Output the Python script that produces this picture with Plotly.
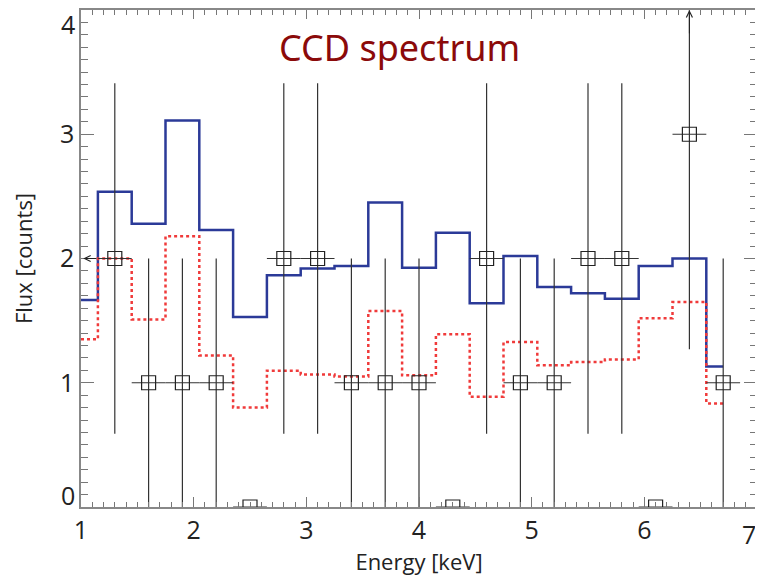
import plotly.graph_objects as go

# model histogram bin edges (keV) and values
edges = [1.0, 1.15, 1.45, 1.75, 2.05, 2.35, 2.65, 2.95, 3.25, 3.55, 3.85,
         4.15, 4.45, 4.75, 5.05, 5.35, 5.65, 5.95, 6.25, 6.55, 6.7]
model_blue = [1.665, 2.537, 2.28, 3.11, 2.23, 1.53, 1.866, 1.92, 1.94, 2.45,
              1.925, 2.207, 1.64, 2.02, 1.77, 1.72, 1.676, 1.94, 2.0, 1.13]
model_red = [1.35, 2.0, 1.51, 2.18, 1.22, 0.80, 1.097, 1.067, 1.05, 1.577,
             1.06, 1.39, 0.887, 1.327, 1.14, 1.166, 1.188, 1.52, 1.65, 0.834]

# observed counts
energy = [1.3, 1.6, 1.9, 2.2, 2.5, 2.8, 3.1, 3.4, 3.7, 4.0,
          4.3, 4.6, 4.9, 5.2, 5.5, 5.8, 6.1, 6.4, 6.7]
counts = [2, 1, 1, 1, 0, 2, 2, 1, 1, 1, 0, 2, 1, 1, 2, 2, 0, 3, 1]
count_err = [1.41, 1, 1, 1, 0, 1.41, 1.41, 1, 1, 1, 0, 1.41, 1, 1, 1.41, 1.41, 0, 1.73, 1]
energy_err = [0.15] * len(energy)

x_range = [1, 7]
y_range = [0, 4]
x_ticks = [1, 2, 3, 4, 5, 6, 7]

axis_font = dict(family="Open Sans, Noto Sans, sans-serif", size=25, color="#222222")
title_font = dict(family="Open Sans, Noto Sans, sans-serif", size=22, color="#222222")
tick_grey = "#777777"

fig = go.Figure()

fig.add_trace(go.Scatter(x=edges, y=model_blue + [model_blue[-1]], mode="lines",
                         line=dict(color="#2b3a98", width=2.5, shape="hv"),
                         showlegend=False))
fig.add_trace(go.Scatter(x=edges, y=model_red + [model_red[-1]], mode="lines",
                         line=dict(color="#f03a3a", width=2.5, shape="hv", dash="dot"),
                         showlegend=False))
fig.add_trace(go.Scatter(x=energy, y=counts, mode="markers",
                         marker=dict(symbol="square-open", size=14, color="#222222",
                                     line=dict(width=1.2)),
                         error_y=dict(type="data", array=count_err, color="#333333",
                                      thickness=1.2, width=0),
                         error_x=dict(type="data", array=energy_err, color="#333333",
                                      thickness=1.2, width=0),
                         showlegend=False))
# empty trace so the top/right tick axes get drawn
fig.add_trace(go.Scatter(x=x_range, y=y_range, xaxis="x2", yaxis="y2", mode="markers",
                         marker=dict(opacity=0), hoverinfo="skip", showlegend=False))

# arrows for limits running off the plot
fig.add_annotation(x=1.02, y=2, ax=1.15, ay=2, xref="x", yref="y", axref="x", ayref="y",
                   text="", showarrow=True, arrowhead=5, arrowsize=1.2, arrowwidth=1,
                   arrowcolor="#222222")
fig.add_annotation(x=6.4, y=4.0, ax=6.4, ay=3.8, xref="x", yref="y", axref="x", ayref="y",
                   text="", showarrow=True, arrowhead=5, arrowsize=1.2, arrowwidth=1,
                   arrowcolor="#222222")

fig.add_annotation(x=3.83, y=3.7, xref="x", yref="y", text="CCD spectrum", showarrow=False,
                   font=dict(family="Comic Sans MS, Noto Sans, sans-serif", size=36,
                             color="#8b0a0a"))

# end labels of the y axis sit a little inside the frame
for val, txt in [(0.1, "0"), (3.89, "4")]:
    fig.add_annotation(x=0, y=val, xref="paper", yref="y", text=txt, showarrow=False,
                       xanchor="right", xshift=-4, font=axis_font)

# last x label would be clipped at the window edge, so it is right-aligned to the frame
fig.add_annotation(x=x_ticks[-1], y=0, xref="x", yref="paper", text=str(x_ticks[-1]),
                   showarrow=False, xanchor="right", yanchor="top", xshift=1, yshift=-8,
                   font=axis_font)

common = dict(ticks="inside", tickwidth=1.2, tickcolor=tick_grey, showline=True,
              linecolor="#888888", linewidth=1.5, showgrid=False, zeroline=False,
              automargin=False)

# the page body adds an 8px offset, so the figure is 8px smaller on top/left
fig.update_layout(
    xaxis=dict(range=x_range, tickvals=x_ticks,
               ticktext=[str(t) for t in x_ticks[:-1]] + [""], ticklen=10,
               minor=dict(dtick=0.1, ticks="inside", ticklen=5, tickcolor=tick_grey,
                          tickwidth=1, showgrid=False),
               tickfont=axis_font,
               title=dict(text="Energy [keV]", font=title_font, standoff=9), **common),
    yaxis=dict(range=y_range, tickvals=[1, 2, 3], ticklen=13,
               minor=dict(dtick=0.1, ticks="inside", ticklen=7, tickcolor=tick_grey,
                          tickwidth=1, showgrid=False),
               tickfont=axis_font,
               title=dict(text="Flux [counts]", font=title_font, standoff=28), **common),
    xaxis2=dict(range=x_range, overlaying="x", side="top", tickvals=x_ticks,
                ticklen=9, showticklabels=False,
                minor=dict(dtick=0.1, ticks="inside", ticklen=5, tickcolor=tick_grey,
                           tickwidth=1, showgrid=False), **common),
    yaxis2=dict(range=y_range, overlaying="y", side="right", tickvals=[1, 2, 3],
                ticklen=13, showticklabels=False,
                minor=dict(dtick=0.1, ticks="inside", ticklen=7, tickcolor=tick_grey,
                           tickwidth=1, showgrid=False), **common),
    width=755, height=575, margin=dict(l=73, r=6, t=2, b=76),
    plot_bgcolor="white", paper_bgcolor="white",
)

fig.write_html("out.html")
